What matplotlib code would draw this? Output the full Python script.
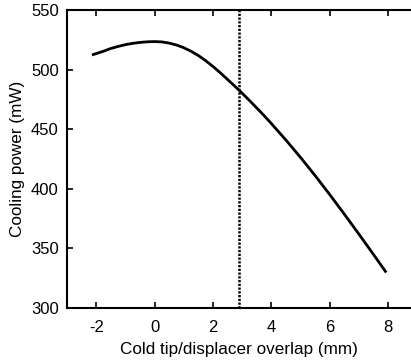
import matplotlib
matplotlib.use("Agg")
import matplotlib.pyplot as plt

# cooling power vs cold tip / displacer overlap
overlap = [-2.1, -1.75, -1.5, -1.25, -1.0, -0.75, -0.5, -0.25, 0.0, 0.25, 0.5, 0.75,
           1.0, 1.25, 1.5, 1.75, 2.0, 2.25, 2.5, 2.75, 3.0, 3.25, 3.5, 3.75,
           4.0, 4.5, 5.0, 5.5, 6.0, 6.5, 7.0, 7.5, 7.9]
power = [512.6, 515.4, 517.7, 519.4, 520.9, 522.0, 522.8, 523.3, 523.5, 523.2, 522.2, 520.6,
         518.3, 515.3, 511.7, 507.4, 502.5, 497.2, 491.6, 485.9, 480.0, 473.9, 467.6, 461.2,
         454.5, 440.6, 426.0, 410.7, 394.8, 378.3, 361.5, 344.4, 330.5]
design_overlap = 2.9

plt.rcParams['font.family'] = ['Liberation Sans', 'DejaVu Sans']
plt.rcParams['axes.unicode_minus'] = False

fig = plt.figure(figsize=(4.11, 3.6), dpi=100)
ax = fig.add_axes([0.163, 0.1453, 0.837, 0.8269])

ax.plot(overlap, power, color='k', lw=2.0, solid_joinstyle='round')
ax.axvline(design_overlap, color='k', lw=1.8, linestyle=(0, (0.9, 0.6)))

ax.set_xlim(-3, 8.775)
ax.set_ylim(300, 550)
ax.set_xticks([-2, 0, 2, 4, 6, 8])
ax.set_yticks([300, 350, 400, 450, 500, 550])

ax.spines['right'].set_visible(False)
for s in ['left', 'top', 'bottom']:
    ax.spines[s].set_linewidth(1.5)
ax.tick_params(direction='in', length=4, width=1.2, labelsize=12,
               top=True, right=False)
ax.tick_params(axis='x', pad=9)
ax.tick_params(axis='y', pad=6)

ax.set_xlabel('Cold tip/displacer overlap (mm)', fontsize=12.3, labelpad=5)
ax.set_ylabel('Cooling power (mW)', fontsize=12.3, labelpad=4)

fig.savefig('out.png', dpi=100)
